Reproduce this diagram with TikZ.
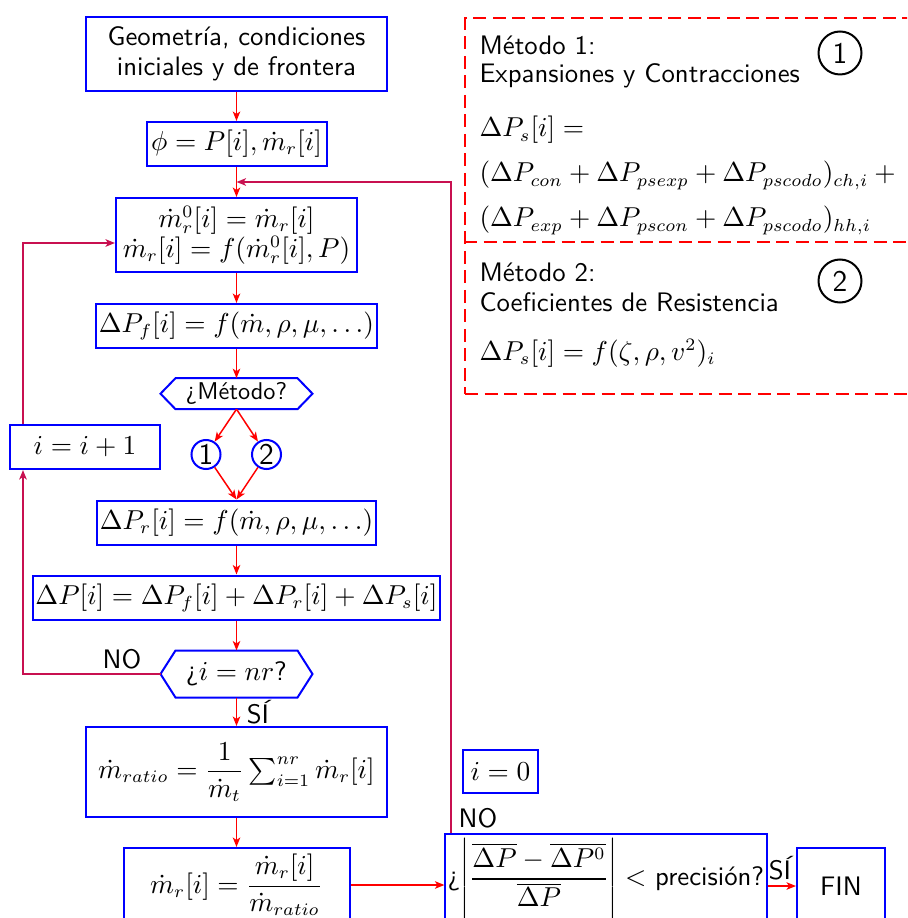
\documentclass[tikz,border=0pt]{standalone}
\usepackage{amsmath,amssymb}
\usepackage{tikz}
\usetikzlibrary{arrows.meta,positioning,calc}
\definecolor{flowblue}{RGB}{0,0,255}
\definecolor{flowred}{RGB}{255,0,0}
\definecolor{loopred}{RGB}{200,16,80}
\newcommand{\txtsize}{\fontsize{10.7}{12}\selectfont}
\newcommand{\eqsize}{\fontsize{10.7}{12}\selectfont}
\tikzset{
  base/.style={font=\sffamily\txtsize, align=center, inner sep=2pt, text=black},
  box/.style={base, rectangle, draw=flowblue, line width=0.8pt},
  eq/.style={font=\sffamily\eqsize, inner sep=1pt},
  hexa/.style={base, rectangle, inner sep=1pt},
  hexline/.style={draw=flowblue, line width=0.8pt, line join=miter},
  num/.style={base, circle, draw=flowblue, line width=0.8pt, inner sep=0pt, minimum size=11.6pt, font=\sffamily\large},
  bignum/.style={num, draw=black, minimum size=17.2pt},
  panel/.style={rectangle, draw=flowred, line width=0.8pt, dash pattern=on 5.2pt off 2.6pt, anchor=north west},
  divider/.style={draw=flowred, line width=0.8pt, dash pattern=on 5.2pt off 2.6pt},
  txt/.style={base, anchor=base west, inner sep=0pt},
  arr/.style={-{Stealth[length=3.8pt,width=3pt,inset=1pt]}, line width=0.6pt, draw=flowred},
  loop/.style={arr, draw=loopred, line width=0.8pt},
  lbl/.style={base, inner sep=0pt},
}
\begin{document}
\begin{tikzpicture}[x=0.4pt,y=-0.4pt]
  \useasboundingbox (0,0) rectangle (907,918);
  \clip (0,0) rectangle (907,918);
  \node[box,minimum width=120.4pt,minimum height=29.6pt] (geo) at (236.5,54) {Geometría, condiciones\\iniciales y de frontera};
  \node[box,eq,minimum width=72pt,minimum height=17.6pt] (phi) at (236.5,144) {$\phi = P[i], \dot{m}_r[i]$};
  \node[box,eq,minimum width=96.4pt,minimum height=29.6pt] (mr0) at (236.5,235) {$\dot{m}_r^0[i] = \dot{m}_r[i]$\\$\dot{m}_r[i] = f(\dot{m}_r^0[i], P)$};
  \node[box,eq,minimum width=108.4pt,minimum height=17.6pt] (dpf) at (236.5,326) {$\Delta P_f[i] = f(\dot{m}, \rho, \mu, \ldots)$};
  \node[hexa,font=\sffamily\fontsize{9.7}{11}\selectfont,minimum width=48.4pt,minimum height=12pt] (met) at (236.5,393.7) {¿Método?};
  \draw[hexline] ([xshift=-6pt]met.west) -- (met.north west) -- (met.north east) -- ([xshift=6pt]met.east) -- (met.south east) -- (met.south west) -- cycle;
  \node[num] (c1) at (206,454.5) {1};
  \node[num] (c2) at (266.5,454.5) {2};
  \node[box,eq,minimum width=60pt,minimum height=17.6pt] (inc) at (85,447) {$i = i + 1$};
  \node[box,eq,minimum width=108.4pt,minimum height=17.6pt] (dpr) at (236.5,522.5) {$\Delta P_r[i] = f(\dot{m}, \rho, \mu, \ldots)$};
  \node[box,eq,minimum width=162.8pt,minimum height=17.6pt] (dpt) at (236.5,597.5) {$\Delta P[i] = \Delta P_f[i] + \Delta P_r[i] + \Delta P_s[i]$};
  \node[hexa,eq,minimum width=48.4pt,minimum height=18.4pt] (nr) at (236.5,674) {$\text{¿}i = nr\text{?}$};
  \draw[hexline] ([xshift=-6pt]nr.west) -- (nr.north west) -- (nr.north east) -- ([xshift=6pt]nr.east) -- (nr.south east) -- (nr.south west) -- cycle;
  \node[box,eq,minimum width=120.4pt,minimum height=36pt] (ratio) at (236.5,772) {$\dot{m}_{ratio} = \dfrac{1}{\dot{m}_t}\sum_{i=1}^{nr} \dot{m}_r[i]$};
  \node[box,eq,minimum width=90.4pt,minimum height=29.6pt] (mrn) at (236.5,885) {$\dot{m}_r[i] = \dfrac{\dot{m}_r[i]}{\dot{m}_{ratio}}$};
  \node[box,minimum width=126.4pt,minimum height=36pt,inner sep=1pt] (prec) at (606,879) {¿{\eqsize$\left|\dfrac{\overline{\Delta P} - \overline{\Delta P^0}}{\overline{\Delta P}}\right| <$} precisión?};
  \node[box,minimum width=35.2pt,minimum height=30.4pt] (fin) at (841,886) {FIN};
  \node[box,eq,minimum width=30pt,minimum height=17.2pt] (izero) at (500.5,771.5) {$i = 0$};
  \coordinate (join) at ($(phi.south)!0.5!(mr0.north)$);
  \foreach \a/\b in {geo/phi,phi/mr0,mr0/dpf,dpf/met,dpr/dpt,dpt/nr,nr/ratio,ratio/mrn}
    \draw[arr] (\a) -- (\b);
  \draw[arr] (met.south) -- (c1);
  \draw[arr] (met.south) -- (c2);
  \draw[arr] (c1) -- (dpr.north);
  \draw[arr] (c2) -- (dpr.north);
  \draw[arr] (mrn) -- (mrn -| prec.west);
  \draw[arr] (prec.east |- fin) -- (fin);
  \draw[loop] ([xshift=-6pt]nr.west) -| ([xshift=5.6pt]inc.south west);
  \draw[loop] ([xshift=5.6pt]inc.north west) |- ([yshift=-3.2pt]mr0.west);
  \draw[loop] ([xshift=2.8pt]prec.north west) |- (join);
  \node[lbl] (no1) at (122,659) {NO};
  \node[lbl] (si1) at (258,712) {SÍ};
  \node[lbl] (no2) at (478,818) {NO};
  \node[lbl] (si2) at (780,868) {SÍ};
  \node[panel,minimum width=186.4pt,minimum height=150.4pt] (pane) at (464,17.3) {};
  \draw[divider] (pane.west |- 0,242.3) -- (pane.east |- 0,242.3);
  \node[txt] (m1a) at (479,55) {Método 1:};
  \node[txt] (m1b) at (479,83) {Expansiones y Contracciones};
  \node[txt,eq,inner sep=0pt] (m1c) at (479,137) {$\Delta P_s[i] =$};
  \node[txt,eq,inner sep=0pt] (m1d) at (479,182) {$(\Delta P_{con} + \Delta P_{psexp} + \Delta P_{pscodo})_{ch,i} +{}$};
  \node[txt,eq,inner sep=0pt] (m1e) at (479,227) {$(\Delta P_{exp} + \Delta P_{pscon} + \Delta P_{pscodo})_{hh,i}$};
  \node[bignum] (k1) at (840,53) {1};
  \node[txt] (m2a) at (479,282) {Método 2:};
  \node[txt] (m2b) at (479,312) {Coeficientes de Resistencia};
  \node[txt,eq,inner sep=0pt] (m2c) at (479,360) {$\Delta P_s[i] = f(\zeta, \rho, v^2)_i$};
  \node[bignum] (k2) at (840,281) {2};
\end{tikzpicture}
\end{document}
